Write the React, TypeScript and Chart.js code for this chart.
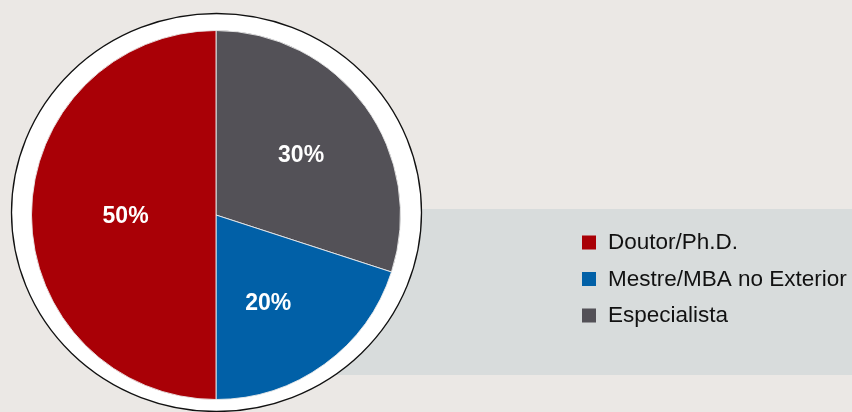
import React, { useEffect, useRef } from "react";
import { Chart, registerables } from "chart.js";

Chart.register(...registerables);

// Data (drawing order clockwise from 12 o'clock)
const categories = ["Especialista", "Mestre/MBA no Exterior", "Doutor/Ph.D."];
const shares = [30, 20, 50];
const sliceColors = ["#535157", "#0160a7", "#a90006"];
// Legend order as printed in the reference
const legendOrder = [2, 1, 0];
// label placement (fraction of radius, angular nudge in degrees)
const labelRadius = [0.57, 0.55, 0.49];
const labelAngleNudge = [0, 5, 0];

const W = 852;
const H = 412;

const backdropPlugin = {
  id: "backdrop",
  beforeDraw(chart: any) {
    const ctx = chart.ctx;
    ctx.save();
    ctx.fillStyle = "#ebe8e5";
    ctx.fillRect(0, 0, W, H);
    ctx.fillStyle = "#d8dcdc";
    ctx.fillRect(300, 209, W - 300, 166);
    const arc = chart.getDatasetMeta(0).data[0];
    const cx = arc.x;
    const cy = arc.y - 2.5;
    ctx.beginPath();
    ctx.ellipse(cx + 0.5, cy, 205, 199, 0, 0, Math.PI * 2);
    ctx.fillStyle = "#ffffff";
    ctx.fill();
    ctx.lineWidth = 1.3;
    ctx.strokeStyle = "#111111";
    ctx.stroke();
    ctx.restore();
  },
};

const labelsPlugin = {
  id: "sliceLabels",
  afterDatasetsDraw(chart: any) {
    const ctx = chart.ctx;
    const meta = chart.getDatasetMeta(0);
    ctx.save();
    ctx.fillStyle = "#ffffff";
    ctx.font = "bold 23px 'Liberation Sans', Arial, sans-serif";
    ctx.textAlign = "center";
    ctx.textBaseline = "middle";
    meta.data.forEach((el: any, i: number) => {
      const p = el.getProps(["x", "y", "startAngle", "endAngle", "outerRadius"], true);
      const mid = (p.startAngle + p.endAngle) / 2 + (labelAngleNudge[i] * Math.PI) / 180;
      const r = p.outerRadius * labelRadius[i];
      ctx.fillText(shares[i] + "%", p.x + Math.cos(mid) * r, p.y + Math.sin(mid) * r + 2);
    });
    ctx.restore();
  },
};

const legendPlugin = {
  id: "sideLegend",
  afterDraw(chart: any) {
    const ctx = chart.ctx;
    const ds = chart.data.datasets[0];
    ctx.save();
    ctx.font = "22.5px 'Liberation Sans', Arial, sans-serif";
    ctx.textBaseline = "alphabetic";
    ctx.textAlign = "left";
    const x0 = 582;
    const base0 = 249;
    const step = 36.5;
    legendOrder.forEach((idx, row) => {
      const by = base0 + row * step;
      ctx.fillStyle = (ds.backgroundColor as string[])[idx];
      ctx.fillRect(x0, by - 13.5, 14, 14);
      ctx.fillStyle = "#111111";
      ctx.fillText(chart.data.labels[idx], x0 + 26, by);
    });
    ctx.restore();
  },
};

export default function App() {
  const ref = useRef<HTMLCanvasElement | null>(null);
  useEffect(() => {
    if (!ref.current) return;
    const chart = new Chart(ref.current, {
      type: "pie",
      data: {
        labels: categories,
        datasets: [
          {
            data: shares,
            backgroundColor: sliceColors,
            borderColor: "rgba(235,235,235,0.9)",
            borderWidth: 1,
          },
        ],
      },
      options: {
        responsive: false,
        animation: false,
        devicePixelRatio: 1,
        layout: { padding: { left: 31, top: 30, right: W - 401, bottom: H - 400 } },
        plugins: {
          legend: { display: false },
          tooltip: { enabled: false },
        },
      },
      plugins: [backdropPlugin, labelsPlugin, legendPlugin],
    });
    return () => chart.destroy();
  }, []);
  return (
    <div style={{ position: "fixed", left: 0, top: 0, width: W, height: H, background: "#ebe8e5" }}>
      <canvas ref={ref} width={W} height={H} style={{ display: "block" }} />
    </div>
  );
}
